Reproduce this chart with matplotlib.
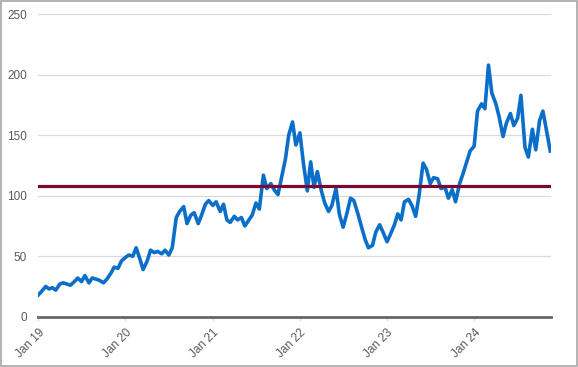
import matplotlib
matplotlib.use("Agg")
import matplotlib.pyplot as plt
import matplotlib.dates as mdates
from matplotlib.patches import Rectangle
import pandas as pd

# half-monthly readings (1st and 15th), Jan 2019 - Nov 2024
dates = pd.date_range("2019-01-01", periods=142, freq="SMS")
values = [
    # 2019
    18, 21, 25, 23, 24, 22, 27, 28, 27, 26, 29, 32,
    29, 34, 28, 32, 31, 30, 28, 31, 36, 41, 40, 46,
    # 2020
    49, 51, 50, 57, 48, 39, 46, 55, 53, 54, 52, 55,
    51, 57, 82, 87, 91, 77, 84, 86, 77, 84, 93, 96,
    # 2021
    92, 95, 87, 93, 80, 78, 83, 80, 82, 75, 80, 84,
    94, 89, 117, 106, 110, 105, 101, 114, 130, 150, 161, 142,
    # 2022
    152, 128, 104, 128, 107, 120, 104, 94, 87, 92, 106, 85,
    74, 84, 98, 96, 85, 75, 64, 57, 59, 70, 76, 70,
    # 2023
    62, 68, 76, 85, 80, 95, 97, 92, 83, 100, 127, 122,
    110, 115, 114, 106, 107, 98, 105, 95, 110, 118, 128, 137,
    # 2024
    141, 170, 176, 172, 208, 185, 176, 165, 149, 160, 168, 158,
    164, 183, 140, 132, 155, 138, 162, 170, 152, 137,
]
level = 108

yticks = [0, 50, 100, 150, 200, 250]
xtick_dates = pd.to_datetime(["2019-01-01", "2020-01-01", "2021-01-01",
                              "2022-01-01", "2023-01-01", "2024-01-01"])
xtick_labels = ["Jan 19", "Jan 20", "Jan 21", "Jan 22", "Jan 23", "Jan 24"]

plt.rcParams["font.family"] = ["Liberation Sans", "DejaVu Sans"]

fig = plt.figure(figsize=(5.78, 3.67), dpi=100)
ax = fig.add_axes([0.0663, 0.137, 0.887, 0.824])

ax.plot(dates, values, color="#0B6FC9", lw=2.6, solid_joinstyle="round", zorder=3)
ax.axhline(level, color="#7A0A33", lw=2.3, zorder=4)

ax.set_ylim(0, 250)
ax.set_xlim(pd.Timestamp("2019-01-01"), pd.Timestamp("2024-11-18"))
ax.set_yticks(yticks)
ax.set_xticks(xtick_dates)
ax.set_xticklabels(xtick_labels, rotation=45, ha="right", rotation_mode="anchor")

ax.grid(axis="y", color="#D9D9D9", lw=0.9)
ax.set_axisbelow(True)
for side in ["top", "right", "left"]:
    ax.spines[side].set_visible(False)
ax.spines["bottom"].set_color("#666666")
ax.spines["bottom"].set_linewidth(2)
ax.spines["bottom"].set_zorder(5)

ax.tick_params(axis="y", length=0, pad=8, labelsize=8.5, labelcolor="#595959")
ax.tick_params(axis="x", length=3, color="#D9D9D9", pad=4, labelsize=8.5, labelcolor="#595959")

# outer frame
fig.patches.append(Rectangle((0.001, 0.002), 0.997, 0.995, transform=fig.transFigure,
                             fill=False, edgecolor="#A6A6A6", lw=1.2))

fig.savefig("out.png", dpi=100)
